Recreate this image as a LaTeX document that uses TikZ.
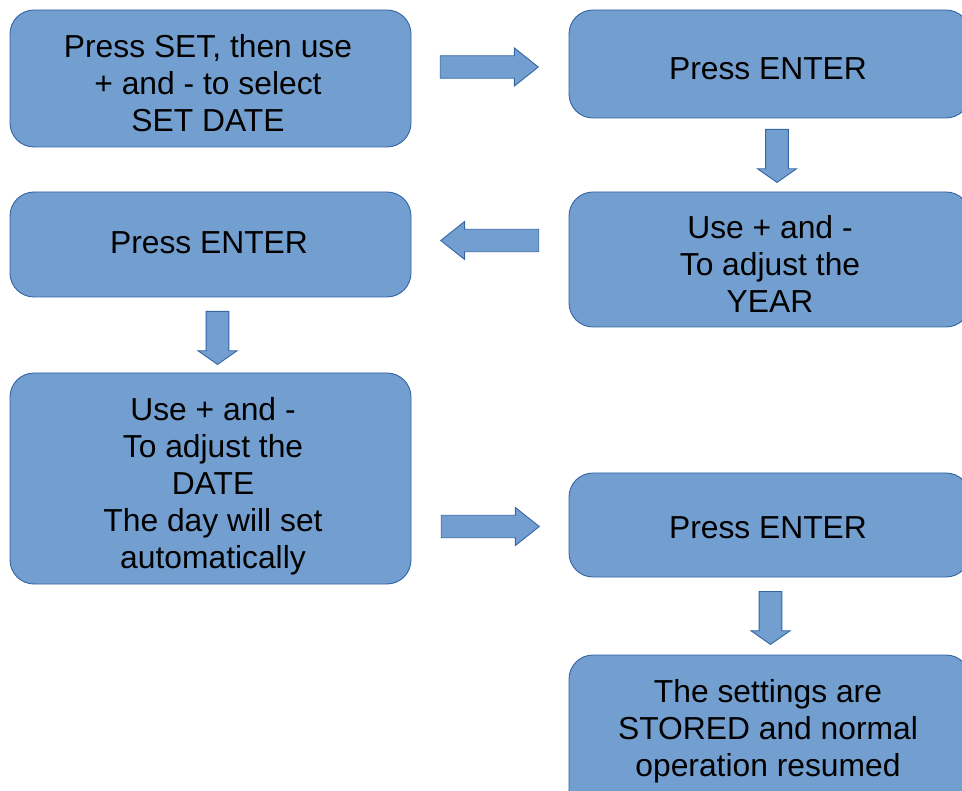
\documentclass[tikz,border=0pt]{standalone}
\usepackage{fontspec}
\setmainfont{Liberation Sans}
\usetikzlibrary{shapes.arrows}
\definecolor{boxfill}{HTML}{729FCF}
\definecolor{boxline}{HTML}{3465A4}
\tikzset{
  flowbox/.style={draw=boxline, fill=boxfill, line width=0.9pt, rounded corners=24pt},
  flowtext/.style={font=\fontsize{31.8pt}{37pt}\selectfont, align=center, text=black},
  blockarrow/.style={single arrow, draw=boxline, fill=boxfill, line width=0.9pt,
    single arrow head indent=0pt, inner sep=0pt, minimum height=#1, anchor=tip},
  harrow/.style={blockarrow=98pt, single arrow tip angle=77, minimum width=38pt, inner ysep=9.8pt, inner xsep=0pt},
  varrow/.style={blockarrow=53pt, single arrow tip angle=110, minimum width=39pt, inner xsep=9.5pt, inner ysep=0pt, shape border rotate=270},
}
\begin{document}
\begin{tikzpicture}[x=1pt,y=-1pt]
\useasboundingbox (0,0) rectangle (962,791);
\clip (0,0) rectangle (962,791);
% boxes
\draw[flowbox] (10,10) rectangle (411,147);
\node[flowtext] (b1) at (208,83) {Press SET, then use\\+ and - to select\\SET DATE};
\draw[flowbox] (569,10) rectangle (970,118);
\node[flowtext] (b2) at (768,69) {Press ENTER};
\draw[flowbox] (569,192) rectangle (970,327);
\node[flowtext] (b3) at (770,264) {Use + and -\\To adjust the\\YEAR};
\draw[flowbox] (10,192) rectangle (411,297);
\node[flowtext] (b4) at (209,243) {Press ENTER};
\draw[flowbox] (10,373) rectangle (411,584);
\node[flowtext] (b5) at (213,486.5) {Use + and -\\To adjust the\\DATE\\The day will set\\automatically};
\draw[flowbox] (569,473) rectangle (970,577);
\node[flowtext] (b6) at (768,528) {Press ENTER};
\draw[flowbox] (569,655) rectangle (970,820);
\node[flowtext] (b7) at (768,731.5) {The settings are\\STORED and normal\\operation resumed};
% arrows
\node[harrow] (a1) at (539,67) {};
\node[varrow] (a2) at (777,183) {};
\node[harrow, shape border rotate=180] (a3) at (440,240.5) {};
\node[varrow] (a4) at (217.5,365) {};
\node[harrow] (a5) at (540,526.5) {};
\node[varrow] (a6) at (770.5,645) {};
\end{tikzpicture}
\end{document}
